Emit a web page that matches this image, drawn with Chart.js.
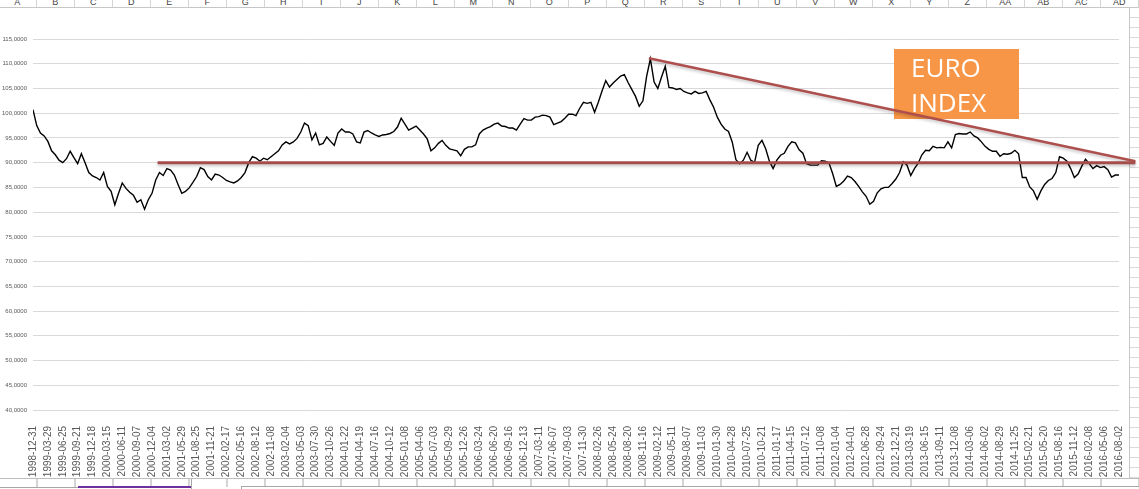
<!DOCTYPE html>
<html>
<head>
<meta charset="utf-8">
<title>EURO INDEX</title>
<script src="https://cdn.jsdelivr.net/npm/chart.js@4.4.0/dist/chart.umd.min.js"></script>
<style>
  html, body { margin: 0; padding: 0; background: #fff; }
  body { width: 1139px; height: 489px; position: relative; overflow: hidden; font-family: "Liberation Sans", Arial, sans-serif; }
  #colHeader { position: absolute; left: 0; top: 0; width: 1139px; height: 7px; border-bottom: 1px solid #c6c6c6; background: #fff; overflow: hidden; z-index: 3; }
  #colHeader div { position: absolute; top: -4px; width: 37px; height: 12px; border-right: 1px solid #d4d4d4; font-size: 9px; line-height: 12px; text-align: center; color: #444; }
  #rightCells { position: absolute; left: 1129px; top: 8px; width: 10px; height: 470px; border-left: 1px solid #c8c8c8;
    background: repeating-linear-gradient(to bottom, transparent 0, transparent 9px, #dadada 9px, #dadada 10px); }
  #sheetBar { position: absolute; left: 0; top: 478px; width: 1139px; height: 11px; border-top: 1px solid #bdbdbd; z-index: 3;
    background: linear-gradient(to right, transparent 36px, #d4d4d4 36px) 0 0 / 38px 8px repeat-x, #fff; }
  #tabLine { position: absolute; left: 0; top: 487px; width: 78px; height: 1px; background: #a6a6a6; z-index: 4; }
  #tabActive { position: absolute; left: 78px; top: 486px; width: 113px; height: 2px; background: #7030a0; z-index: 4; }
  #tabEdge { position: absolute; left: 191px; top: 479px; width: 1px; height: 10px; background: #a6a6a6; z-index: 4; }
  #tabBox { position: absolute; left: 241px; top: 486px; width: 898px; height: 3px; border-top: 1px solid #a6a6a6; border-left: 1px solid #a6a6a6; background: #fff; z-index: 4; }
  #chart { position: absolute; left: 0; top: 0; z-index: 1; }
  #euroLabel { position: absolute; left: 894px; top: 49px; width: 125px; height: 70px; z-index: 2; box-sizing: border-box;
    padding: 1px 0 0 17px; color: #fff; font-family: "Open Sans", sans-serif; font-size: 26px; line-height: 35px; }
</style>
</head>
<body>
<div id="colHeader"></div>
<div id="rightCells"></div>
<canvas id="chart" width="1139" height="489"></canvas>
<div id="euroLabel">EURO<br>INDEX</div>
<div id="sheetBar"></div>
<div id="tabLine"></div>
<div id="tabActive"></div>
<div id="tabEdge"></div>
<div id="tabBox"></div>
<script>
// tick labels on the category axis, one every 88 days
const tickLabels = [
  "1998-12-31", "1999-03-29", "1999-06-25", "1999-09-21", "1999-12-18", "2000-03-15", "2000-06-11", "2000-09-07",
  "2000-12-04", "2001-03-02", "2001-05-29", "2001-08-25", "2001-11-21", "2002-02-17", "2002-05-16", "2002-08-12",
  "2002-11-08", "2003-02-04", "2003-05-03", "2003-07-30", "2003-10-26", "2004-01-22", "2004-04-19", "2004-07-16",
  "2004-10-12", "2005-01-08", "2005-04-06", "2005-07-03", "2005-09-29", "2005-12-26", "2006-03-24", "2006-06-20",
  "2006-09-16", "2006-12-13", "2007-03-11", "2007-06-07", "2007-09-03", "2007-11-30", "2008-02-26", "2008-05-24",
  "2008-08-20", "2008-11-16", "2009-02-12", "2009-05-11", "2009-08-07", "2009-11-03", "2010-01-30", "2010-04-28",
  "2010-07-25", "2010-10-21", "2011-01-17", "2011-04-15", "2011-07-12", "2011-10-08", "2012-01-04", "2012-04-01",
  "2012-06-28", "2012-09-24", "2012-12-21", "2013-03-19", "2013-06-15", "2013-09-11", "2013-12-08", "2014-03-06",
  "2014-06-02", "2014-08-29", "2014-11-25", "2015-02-21", "2015-05-20", "2015-08-16", "2015-11-12", "2016-02-08",
  "2016-05-06", "2016-08-02"
];
const stepsPerTick = 4; // readings between two labels

// euro index (one value per 22 days)
const euroIndex = [
  100.7, 97.5, 96.0, 95.4, 94.3, 92.4, 91.6, 90.5, 90.0, 90.8,
  92.3, 91.0, 89.8, 91.8, 90.0, 88.0, 87.3, 87.0, 86.5, 88.0,
  85.2, 84.2, 81.5, 83.8, 85.9, 84.8, 84.0, 83.4, 82.0, 82.5,
  80.6, 82.5, 83.8, 86.5, 88.0, 87.4, 88.8, 88.5, 87.5, 85.6,
  83.8, 84.2, 84.9, 86.0, 87.2, 89.0, 88.6, 87.2, 86.5, 87.7,
  87.5, 87.0, 86.4, 86.1, 85.9, 86.3, 87.0, 88.0, 90.0, 91.2,
  90.9, 90.3, 90.9, 90.6, 91.2, 91.8, 92.4, 93.6, 94.2, 93.8,
  94.2, 94.9, 96.2, 98.0, 97.5, 94.6, 96.0, 93.6, 93.9, 95.2,
  94.3, 93.5, 96.0, 96.8, 96.2, 96.2, 95.8, 94.2, 94.0, 96.2,
  96.5, 96.0, 95.6, 95.3, 95.6, 95.7, 95.9, 96.3, 97.2, 99.0,
  97.8, 96.6, 97.0, 97.4, 96.6, 95.8, 94.8, 92.4, 93.0, 93.9,
  94.5, 93.5, 92.8, 92.6, 92.4, 91.4, 92.7, 93.2, 93.2, 93.6,
  95.8, 96.6, 97.0, 97.3, 97.8, 98.0, 97.4, 97.3, 97.0, 97.0,
  96.6, 97.8, 98.9, 98.6, 98.6, 99.2, 99.3, 99.6, 99.5, 99.2,
  97.7, 98.0, 98.3, 99.0, 99.8, 99.8, 99.5, 101.0, 102.2, 102.0,
  102.2, 100.2, 102.2, 104.5, 106.6, 105.3, 106.1, 106.8, 107.5, 107.8,
  106.2, 104.8, 103.4, 101.4, 102.5, 107.5, 111.0, 106.3, 105.0, 107.3,
  109.5, 105.2, 105.1, 104.8, 105.0, 104.4, 104.1, 103.9, 104.4, 104.0,
  104.1, 104.4, 102.7, 101.2, 99.2, 97.8, 96.8, 96.3, 94.2, 90.6,
  89.8, 90.5, 92.1, 90.5, 90.0, 93.5, 94.5, 92.8, 90.3, 88.8,
  90.5, 91.5, 91.9, 93.3, 94.2, 94.0, 92.6, 91.9, 89.8, 89.5,
  89.5, 89.5, 90.4, 90.3, 90.0, 87.8, 85.2, 85.6, 86.3, 87.3,
  87.0, 86.2, 85.2, 84.1, 83.2, 81.6, 82.2, 83.9, 84.7, 85.0,
  85.0, 85.8, 86.7, 88.0, 90.2, 89.5, 87.4, 88.8, 89.9, 91.6,
  92.5, 92.4, 93.3, 93.0, 93.1, 93.0, 94.2, 93.0, 95.7, 95.9,
  95.8, 95.8, 96.2, 95.4, 95.0, 94.2, 93.3, 92.7, 92.3, 92.3,
  91.3, 91.8, 91.7, 91.9, 92.5, 91.8, 87.0, 87.0, 85.1, 84.3,
  82.6, 84.3, 85.6, 86.4, 86.8, 88.0, 91.2, 90.9, 90.3, 88.8,
  87.0, 87.7, 89.3, 90.7, 89.8, 88.8, 89.4, 89.0, 89.2, 88.6,
  87.1, 87.5, 87.5
];

// drawn lines (support at 90 and the falling trend from the 2008 peak), in reading steps
const supportX = [33.5, 296.4];
const supportY = [90.0, 90.0];
const trendX = [165.6, 296.4];
const trendY = [111.1, 90.3];

// spreadsheet column letters on top
const header = document.getElementById("colHeader");
for (let k = 0; k < 30; k++) {
  const name = k < 26 ? String.fromCharCode(65 + k) : "A" + String.fromCharCode(65 + k - 26);
  const cell = document.createElement("div");
  cell.style.left = (-1.3 + 38 * k) + "px";
  cell.textContent = name;
  header.appendChild(cell);
}

const toPoints = (xs, ys) => xs.map((x, i) => ({ x: x, y: ys[i] }));

const boxPlugin = {
  id: "euroBox",
  beforeDatasetsDraw(chart) {
    const ctx = chart.ctx;
    ctx.save();
    ctx.fillStyle = "#f79646";
    ctx.fillRect(894, 49, 125, 70);
    ctx.restore();
  },
  beforeDatasetDraw(chart, args) {
    if (args.index > 1) return;
    const ctx = chart.ctx;
    ctx.save();
    ctx.shadowColor = "rgba(0,0,0,0.22)";
    ctx.shadowBlur = 3;
    ctx.shadowOffsetY = 2;
  },
  afterDatasetDraw(chart, args) {
    if (args.index > 1) return;
    chart.ctx.restore();
  }
};

new Chart(document.getElementById("chart"), {
  type: "line",
  data: {
    datasets: [
      {
        label: "support",
        data: toPoints(supportX, supportY),
        borderColor: "#a44d4b",
        borderWidth: 3,
        pointRadius: 0,
        clip: false,
      },
      {
        label: "trend",
        data: toPoints(trendX, trendY),
        borderColor: "#ad4f4d",
        borderWidth: 2.5,
        pointRadius: 0,
        clip: false,
      },
      {
        label: "EURO INDEX",
        data: euroIndex.map((v, i) => ({ x: i, y: v })),
        borderColor: "#000",
        borderWidth: 1.4,
        pointRadius: 0,
        tension: 0,
      },
    ],
  },
  options: {
    responsive: false,
    animation: false,
    devicePixelRatio: 1,
    layout: { padding: { top: 39, right: 15, bottom: 0, left: 0 } },
    plugins: { legend: { display: false }, tooltip: { enabled: false } },
    scales: {
      x: {
        type: "linear",
        min: 0,
        max: (tickLabels.length - 1) * stepsPerTick,
        grid: { display: false },
        border: { display: false },
        afterFit(s) { s.height = 79; },
        ticks: {
          stepSize: stepsPerTick,
          autoSkip: false,
          minRotation: 90,
          maxRotation: 90,
          padding: 8,
          color: "#595959",
          font: { family: "Liberation Sans", size: 10 },
          callback: (v) => tickLabels[v / stepsPerTick] || "",
        },
      },
      y: {
        min: 40,
        max: 115,
        afterFit(s) { s.width = 33; },
        grid: { color: "#d9d9d9", drawTicks: false },
        border: { display: false },
        ticks: {
          stepSize: 5,
          padding: 6,
          color: "#595959",
          font: { family: "Liberation Sans", size: 6 },
          callback: (v) => v.toFixed(4).replace(".", ","),
        },
      },
    },
  },
  plugins: [boxPlugin],
});
</script>
</body>
</html>
